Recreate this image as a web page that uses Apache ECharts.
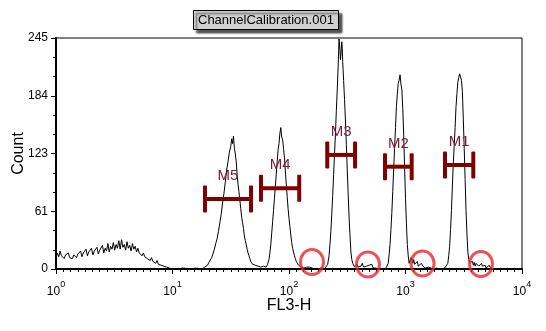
<!DOCTYPE html>
<html>
<head>
<meta charset="utf-8">
<script src="https://cdn.jsdelivr.net/npm/echarts@6/dist/echarts.min.js"></script>
<style>html,body{margin:0;padding:0;background:#fff}#c{width:546px;height:331px}</style>
</head>
<body>
<div id="c"></div>
<script>
// ---- data ----
const chartTitle = 'ChannelCalibration.001';
const xName = 'FL3-H';
const yName = 'Count';
const yMax = 245;
const yTickStep = 61.25;           // labels 0, 61, 123, 184, 245
const xDecades = [1, 10, 100, 1000, 10000];
const channelsPerDecade = 256;     // 1024-channel, 4-decade log scale
const channelCount = 1024;

// histogram: [channel, count]
const histogram = [
[0,12],[3,17],[6,13],[9,19],[12,14],[15,16],[18,11],[21,15],[24,13],[27,17],[30,12],[33,14],[36,11],[39,15],[42,13],[45,12],[48,16],[51,14],[54,19],[57,13],[60,17],[63,15],[66,21],[69,14],[72,18],[75,16],[78,22],[81,15],[84,19],[87,17],[90,23],[93,16],[96,20],[99,18],[102,25],[105,17],[108,22],[111,19],[114,27],[117,18],[120,24],[123,21],[126,28],[129,20],[132,26],[135,22],[138,30],[141,21],[144,31],[147,23],[150,26],[153,20],[156,29],[159,22],[162,25],[165,19],[168,27],[171,21],[174,24],[177,18],[180,22],[183,17],[186,19],[189,14],[192,17],[195,13],[198,15],[201,11],[204,13],[207,9],[210,12],[213,8],[216,10],[219,6],[222,9],[225,5],[228,7],[231,4],[234,6],[237,3],[240,4],[243,2],[246,3],[249,1],[252,2],[255,0],[258,1],[261,0],
[270,0],[278,1],[282,0],[300,0],[306,1],[310,0],[320,0],
[324,1],[327,2],[330,3],[333,4],[336,7],[339,9],[342,12],[345,16],[348,21],[351,27],[354,32],[357,40],[360,49],[363,58],[366,70],[369,80],[372,92],[375,105],[378,114],[381,124],[384,130],[386,138],[388,133],[390,141],[392,128],[394,122],[396,114],[398,100],[400,90],[402,82],[404,73],[406,64],[408,55],[410,49],[412,43],[414,35],[416,30],[418,26],[420,21],[422,17],[424,14],[426,11],[428,8],[430,6],[432,5],[435,3],[438,4],[441,2],[444,3],[447,1],[450,2],[453,0],[456,3],[459,1],[462,2],
[465,5],[468,10],[470,17],[472,26],[474,38],[476,50],[478,62],[480,75],[482,88],[484,100],[486,114],[488,126],[490,133],[492,144],[494,150],[496,140],[498,137],[500,128],[502,118],[504,104],[506,90],[508,77],[510,64],[512,54],[514,45],[516,36],[518,28],[520,22],[522,18],[524,14],[526,11],[528,8],[530,6],[533,4],[536,3],[539,2],[542,4],[545,1],[548,3],[551,2],[554,4],[557,2],[560,3],[563,1],[566,2],[569,0],[572,1],[575,0],
[578,0],[584,1],[590,0],[594,2],[597,5],[600,14],[602,26],[604,40],[606,58],[608,78],[610,100],[612,122],[614,142],[616,168],[618,190],[620,215],[622,244],[624,232],[625,222],[626,227],[628,241],[629,234],[630,220],[632,200],[634,180],[636,158],[638,132],[640,105],[642,80],[644,55],[646,36],[648,18],[650,10],[652,6],[654,4],[656,2],
[658,3],[661,5],[664,2],[667,4],[670,3],[673,6],[676,2],[679,4],[682,3],[685,1],[688,4],[691,2],[694,5],[697,1],[700,3],[703,1],[706,2],[709,0],[712,1],[716,0],[720,1],[724,0],[727,2],
[730,6],[732,15],[734,26],[736,42],[738,60],[740,82],[742,106],[744,128],[746,150],[748,172],[750,185],[752,197],[754,200],[756,206],[758,196],[760,190],[762,170],[764,142],[766,108],[768,75],[770,48],[772,26],[774,14],[776,6],[778,8],[780,12],[782,9],[784,6],[786,10],[788,5],[790,7],[792,4],[794,8],[796,3],[798,5],[800,2],[803,6],[806,3],[809,4],[812,1],[815,3],[818,2],[821,4],[824,1],[827,0],
[830,0],[836,1],[842,0],[848,0],[854,1],[858,2],[861,6],[863,14],[865,24],[867,42],[869,62],[871,88],[873,112],[875,130],[877,150],[879,172],[881,186],[883,198],[885,203],[887,207],[889,209],[891,200],[893,188],[895,160],[897,128],[899,95],[901,62],[903,38],[905,18],[907,10],[909,7],[911,9],[913,5],[915,8],[917,4],[919,7],[921,3],[923,6],[925,4],[927,8],[929,3],[931,5],[933,2],[935,6],[937,3],[939,5],[941,2],[943,4],[945,1],[947,3],[949,2],[952,4],[955,1],[958,2],[961,0],[965,1],[970,0],[1000,0],[1023,0]
];

// gates (markers)
const gateNames = ['M5', 'M4', 'M3', 'M2', 'M1'];
const gateLow   = [19.0, 57.5, 213, 667, 2183];
const gateHigh  = [47.2, 122.4, 369, 1130, 3819];
const gateLevel = [74.2, 85.6, 121, 108.5, 110.3];

// red highlight circles
const circleX = [157.5, 476, 1400, 4446];
const circleY = [7.4, 4.8, 5.8, 5.3];

// ---- chart ----
const FONT = 'Liberation Sans, Arial, sans-serif';
const chart = echarts.init(document.getElementById('c'), null, {renderer: 'canvas'});

const lineData = histogram.map(p => [Math.pow(10, p[0] / channelsPerDecade), p[1]]);
const gateData = gateNames.map((n, i) => [gateLow[i], gateHigh[i], gateLevel[i], n]);
const circleData = circleX.map((x, i) => [x, circleY[i]]);

const GATE_COLOR = '#800000';

chart.setOption({
  animation: false,
  backgroundColor: '#ffffff',
  title: {
    text: chartTitle,
    left: 193, top: 10,
    padding: [3, 5],
    backgroundColor: '#d0d0d0',
    borderColor: '#000', borderWidth: 1,
    shadowBlur: 2, shadowOffsetX: 3, shadowOffsetY: 3, shadowColor: 'rgba(0,0,0,0.65)',
    textStyle: {fontFamily: FONT, fontSize: 13, fontWeight: 'normal', color: '#000', lineHeight: 14}
  },
  grid: {left: 56, right: 24, top: 38, bottom: 62, containLabel: false, outerBoundsMode: 'none',
    show: true, borderColor: '#000', borderWidth: 1, backgroundColor: 'transparent'},
  xAxis: [{
    type: 'log', logBase: 10, min: xDecades[0], max: xDecades[xDecades.length - 1],
    name: xName, nameLocation: 'middle', nameGap: 29, nameMoveOverlap: false,
    nameTextStyle: {fontFamily: FONT, fontSize: 16, color: '#000'},
    axisLine: {show: true, lineStyle: {color: '#000', width: 2}},
    axisTick: {show: true, inside: false, length: 5, lineStyle: {color: '#000', width: 1}},
    minorTick: {show: false},
    splitLine: {show: false},
    axisLabel: {
      margin: 11,
      formatter: v => '{b|10}{s|' + Math.round(Math.log10(v)) + '}',
      rich: {
        b: {fontFamily: FONT, fontSize: 12, color: '#000', lineHeight: 18, verticalAlign: 'bottom'},
        s: {fontFamily: FONT, fontSize: 9, color: '#000', lineHeight: 8, verticalAlign: 'top'}
      }
    }
  }, {
    type: 'value', min: 0, max: channelCount, interval: 16, position: 'bottom',
    axisLine: {show: false},
    axisTick: {show: true, inside: false, length: 3, lineStyle: {color: '#000', width: 1}},
    axisLabel: {show: false},
    splitLine: {show: false}
  }],
  yAxis: {
    type: 'value', min: 0, max: yMax, interval: yTickStep,
    name: yName, nameLocation: 'middle', nameGap: 29, nameMoveOverlap: false,
    nameTextStyle: {fontFamily: FONT, fontSize: 16, color: '#000'},
    axisLine: {show: true, lineStyle: {color: '#000', width: 2}},
    axisTick: {show: true, inside: false, length: 5, lineStyle: {color: '#000', width: 1}},
    minorTick: {show: true, splitNumber: 3, length: 3, lineStyle: {color: '#000', width: 1}},
    splitLine: {show: false},
    axisLabel: {margin: 8, fontFamily: FONT, fontSize: 12, color: '#000', formatter: v => String(Math.round(v))}
  },
  series: [{
    type: 'line', xAxisIndex: 0, data: lineData, showSymbol: false, symbol: 'none',
    lineStyle: {color: '#000', width: 1}, z: 2, silent: true
  }, {
    type: 'custom', xAxisIndex: 0, data: gateData, z: 3, silent: true,
    renderItem: (params, api) => {
      const a = api.coord([api.value(0), api.value(2)]);
      const b = api.coord([api.value(1), api.value(2)]);
      const name = gateNames[params.dataIndex];
      return {type: 'group', children: [
        {type: 'rect', shape: {x: a[0], y: a[1] - 2, width: b[0] - a[0], height: 4}, style: {fill: GATE_COLOR}},
        {type: 'rect', shape: {x: a[0] - 2, y: a[1] - 13.5, width: 4, height: 27, r: 1}, style: {fill: GATE_COLOR}},
        {type: 'rect', shape: {x: b[0] - 2, y: b[1] - 13.5, width: 4, height: 27, r: 1}, style: {fill: GATE_COLOR}},
        {type: 'text', x: (a[0] + b[0]) / 2, y: a[1] - 23,
          style: {text: name, fill: '#7a1a3a', font: '15px ' + FONT, textAlign: 'center', textVerticalAlign: 'middle'}}
      ]};
    }
  }, {
    type: 'scatter', xAxisIndex: 0, data: circleData, clip: false, z: 4, silent: true,
    symbol: 'circle', symbolSize: [23, 25],
    itemStyle: {color: 'rgba(0,0,0,0)', borderColor: '#e8262a', borderWidth: 3}
  }]
});
</script>
</body>
</html>
